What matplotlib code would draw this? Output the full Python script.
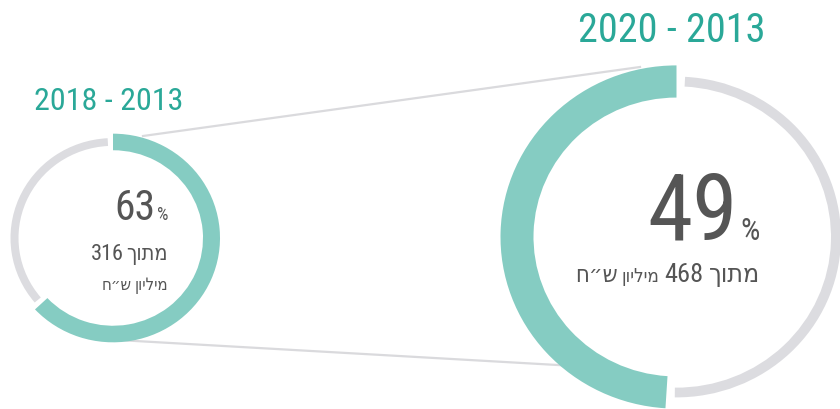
import os
import matplotlib
matplotlib.use("Agg")
import matplotlib.pyplot as plt
from matplotlib import font_manager as fm
from matplotlib.patches import Wedge

# periods, share of budget used (%) and total budget (million NIS)
titles = ["2018 - 2013", "2020 - 2013"]
shares = [63, 49]
totals = [316, 468]
of_word = "מתוך"
million = "מיליון"
nis = "ש״ח"

W, H = 840, 410
SQ = 0.975  # slight vertical squash of the rings
TEAL = "#85ccc2"
TEAL_TEXT = "#2aa898"
GREY = "#dcdce0"
LINE = "#dadadd"
TEXT = "#555555"


def find_font(keys):
    files = [f.fname for f in fm.fontManager.ttflist]
    for key in keys:
        for path in files:
            name = os.path.basename(path).lower()
            if key in name and not any(s in name for s in ("bold", "italic", "oblique", "light", "thin", "medium", "black")):
                return fm.FontProperties(fname=path)
    return None


# a narrow face for digits, and one that also carries hebrew
NUM_FONT = find_font(["robotocondensed", "roboto_condensed", "liberationsansnarrow",
                      "opensans_condensed", "opensanscondensed", "dejavusanscondensed"])
HEB_FONT = find_font(["dejavusanscondensed", "liberationsans-regular"])
if NUM_FONT is None:
    NUM_FONT = fm.FontProperties(family="DejaVu Sans")
if HEB_FONT is None:
    HEB_FONT = fm.FontProperties(family="DejaVu Sans")


def py(y):
    # pixel row (from the top) -> data y
    return (H - y) / SQ


def ring(ax, cx, cy, r, share, clockwise, w_fill, w_rest, gap=3):
    sweep = 360 * share / 100
    if clockwise:
        fill = (90 - sweep, 90)
        rest = (90 + gap, 450 - sweep - gap)
    else:
        fill = (90, 90 + sweep)
        rest = (90 + sweep + gap, 450 - gap)
    ax.add_patch(Wedge((cx, py(cy)), r + w_fill / 2, *fill, width=w_fill,
                       color=TEAL, lw=0, zorder=3))
    ax.add_patch(Wedge((cx, py(cy)), r + w_rest / 2, *rest, width=w_rest,
                       color=GREY, lw=0, zorder=3))


def is_heb(s):
    return any("\u0590" <= c <= "\u05ff" for c in s)


def rtl_line(ax, renderer, x, y, pieces, color=TEXT):
    # pieces in reading order (right to left): (text, size, gap after)
    # matplotlib has no bidi support, so hebrew runs are reversed by hand
    for text, size, gap in pieces:
        fp = (HEB_FONT if is_heb(text) else NUM_FONT).copy()
        fp.set_size(size)
        t = ax.text(x, py(y), text[::-1] if is_heb(text) else text,
                    fontproperties=fp, color=color, ha="right", va="baseline", zorder=5)
        x -= t.get_window_extent(renderer).width + gap


fig = plt.figure(figsize=(W / 100, H / 100), dpi=100)
ax = fig.add_axes([0, 0, 1, 1])
ax.set_xlim(0, W)
ax.set_ylim(0, H / SQ)
ax.axis("off")
renderer = fig.canvas.get_renderer()

# connector lines between the two rings
ax.plot([143, 640], [py(137), py(68)], color=LINE, lw=1.6, zorder=1)
ax.plot([118, 575], [py(341), py(367)], color=LINE, lw=1.6, zorder=1)

ring(ax, 113, 239, 98.5, shares[0], True, 17, 8)
ring(ax, 676.5, 238, 159.5, shares[1], False, 33, 10)

# titles
for x, y, size, title in [(109, 110, 23, titles[0]), (672, 42, 29, titles[1])]:
    fp = NUM_FONT.copy()
    fp.set_size(size)
    ax.text(x, py(y), title, fontproperties=fp, color=TEAL_TEXT,
            ha="center", va="baseline")

# left ring labels
rtl_line(ax, renderer, 168, 220, [("%", 13, 1), (str(shares[0]), 30, 0)])
rtl_line(ax, renderer, 168, 260, [(of_word, 15.5, 3), (str(totals[0]), 16, 0)])
rtl_line(ax, renderer, 168, 290, [(million, 12, 3), (nis, 12, 0)])

# right ring labels
rtl_line(ax, renderer, 760, 240, [("%", 22, 3), (str(shares[1]), 66, 0)])
rtl_line(ax, renderer, 760, 282, [(of_word, 19, 5), (str(totals[1]), 19, 5),
                                  (million, 13.5, 4), (nis, 17, 0)])

fig.savefig("out.png", dpi=100, facecolor="white")
